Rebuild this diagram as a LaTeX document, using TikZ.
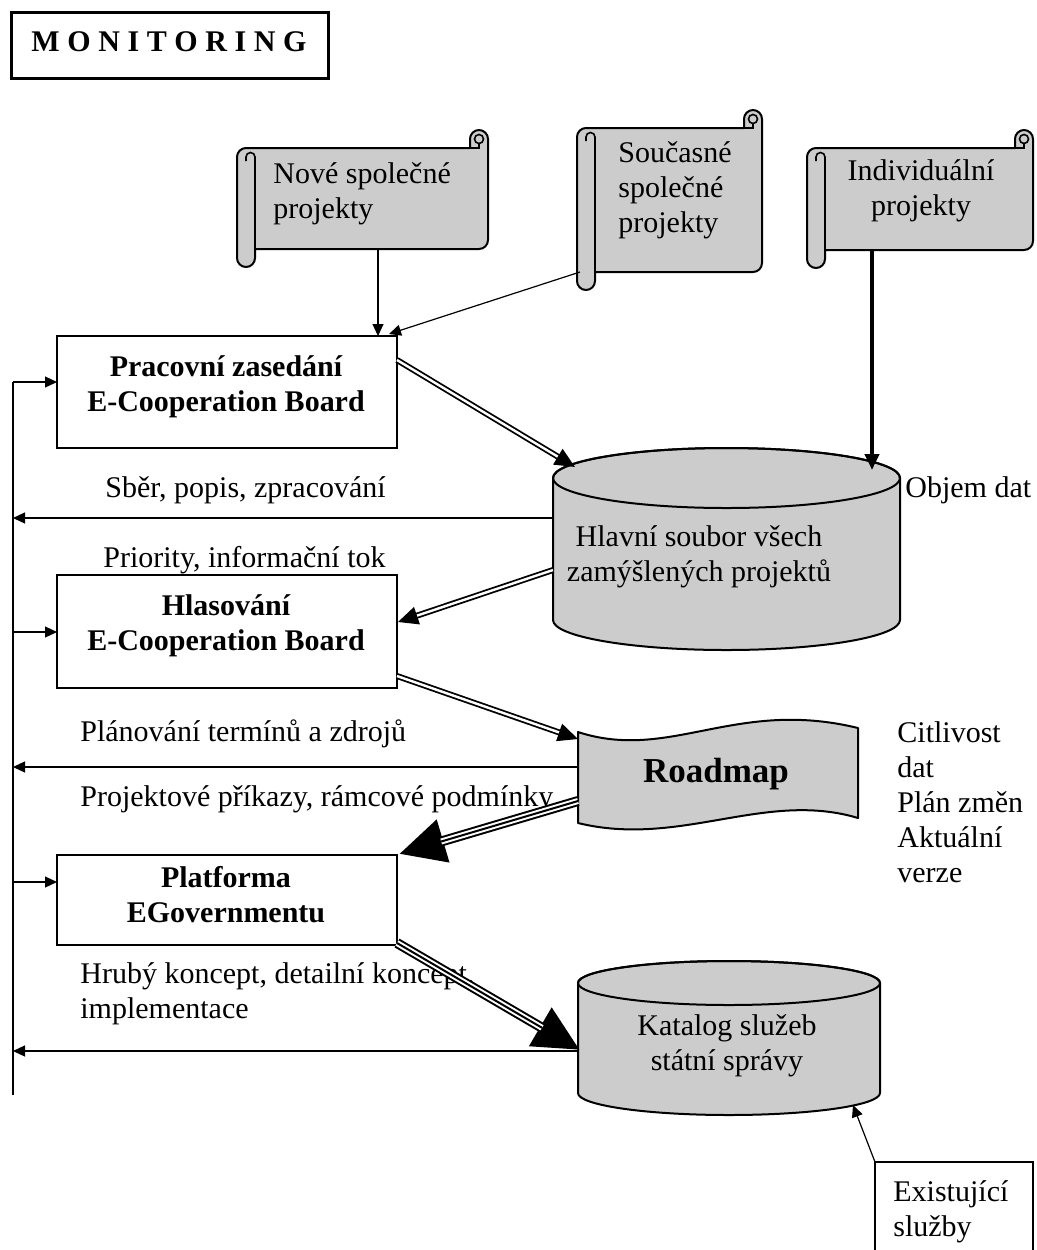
\documentclass[tikz,border=0pt]{standalone}
\usepackage{fontspec}
\setmainfont{Liberation Serif}
\usetikzlibrary{arrows.meta}
\definecolor{stipple}{gray}{0.80}

% scroll banner: left, top, right, bottom
\newcommand\scrollshape[4]{%
  \filldraw[tray] (#1,{#2+27}) arc[start angle=180,end angle=270,radius=9]
    -- ({#3-18},{#2+18}) -- ({#3-18},{#2+9}) arc[start angle=180,end angle=360,radius=9]
    -- (#3,{#4-27}) arc[start angle=0,end angle=90,radius=9]
    -- ({#1+18},{#4-18}) -- ({#1+18},{#4-9}) arc[start angle=0,end angle=180,radius=9] -- cycle;
  \draw[line width=0.9pt] ({#1+18},{#2+36}) -- ({#1+18},{#4-18});
  \draw[line width=0.8pt] ({#1+18},{#2+36}) -- ({#1+18},{#2+27})
    arc[start angle=0,end angle=-180,radius=4.5] -- ({#1+9},{#2+31});
  \draw[line width=0.8pt] ({#3-9},{#2+9}) circle[radius=4.5];
  \draw[line width=0.8pt] ({#3-18},{#2+18}) -- ({#3-9},{#2+18}) -- ({#3-9},{#2+13.5});
}
% upright drum: left, right, top centre y, bottom centre y, y radius
\newcommand\drum[5]{%
  \pgfmathsetmacro\drumrx{(#2-#1)/2}
  \filldraw[tray] (#1,#3) -- (#1,#4)
    arc[start angle=180,end angle=0,x radius=\drumrx,y radius=#5] -- (#2,#3)
    arc[start angle=0,end angle=-180,x radius=\drumrx,y radius=#5] -- cycle;
  \draw[line width=1pt] ({(#1+#2)/2},#3) ellipse[x radius=\drumrx,y radius=#5];
}
% three-line arrow with a large head
\newcommand\triplearrow[2]{%
  \draw[line width=5pt,-{Triangle[length=23pt,width=21pt]}] (#1) -- (#2);
  \draw[white,line width=3pt,shorten >=22pt] (#1) -- (#2);
  \draw[line width=1pt,shorten >=22pt] (#1) -- (#2);
}

\tikzset{
  txt/.style={font=\fontsize{15}{17.5}\selectfont, inner sep=0pt},
  boldtxt/.style={font=\fontsize{15}{17.5}\selectfont\bfseries, inner sep=0pt, align=center},
  frame/.style={draw, line width=0.8pt},
  tray/.style={draw, line width=1pt, fill=stipple, line join=round},
  headsmall/.style={-{Triangle[length=6pt,width=5.5pt]}},
  feed/.style={line width=0.6pt, headsmall},
  twin/.style={double, double distance=1.2pt, line width=0.9pt, -{Triangle[length=10pt,width=9pt]}},
}

\begin{document}
\begin{tikzpicture}[x=0.5pt,y=-0.5pt]
\useasboundingbox (0,0) rectangle (1037,1250);
\fill[white] (0,0) rectangle (1037,1250);

% title
\node[draw, line width=1.5pt, minimum width=158.5pt, minimum height=33pt, inner sep=0pt] (titlebox) at (169.5,45) {};
\node[font=\fontsize{15}{18}\selectfont\bfseries, inner sep=0pt] (title) at (169,42)
  {M\hspace{3.8pt}O\hspace{3.8pt}N\hspace{3.8pt}I\hspace{3.8pt}T\hspace{3.8pt}O\hspace{3.8pt}R\hspace{3.8pt}I\hspace{3.8pt}N\hspace{3.8pt}G};

% project sources
\scrollshape{237}{130}{488}{267}
\node[txt, align=left, anchor=west] (nove) at (273,194) {Nové společné\\projekty};
\scrollshape{577}{110}{762}{290}
\node[txt, align=left, anchor=west] (soucasne) at (618,190) {Současné\\společné\\projekty};
\scrollshape{807}{130}{1033}{268}
\node[txt, align=center] (indiv) at (921,191) {Individuální\\projekty};

% process boxes
\node[frame, minimum width=170pt, minimum height=56pt, inner sep=0pt] (zasedani) at (227,392) {};
\node[boldtxt] (zasedanitxt) at (226,387) {Pracovní zasedání\\E-Cooperation Board};
\node[frame, minimum width=170pt, minimum height=56.5pt, inner sep=0pt] (hlasovani) at (227,631.5) {};
\node[boldtxt] (hlasovanitxt) at (226,626) {Hlasování\\E-Cooperation Board};
\node[frame, minimum width=170pt, minimum height=45pt, inner sep=0pt] (platforma) at (227,900) {};
\node[boldtxt] (platformatxt) at (226,895) {Platforma\\EGovernmentu};

% data stores
\drum{553}{900}{478}{620}{30}
\node[txt, align=center] (hlavni) at (699,557) {Hlavní soubor všech\\zamýšlených projektů};
\filldraw[tray] (578,732) .. controls (670,762) and (735,698) .. (858,728)
  -- (858,818) .. controls (765,790) and (680,848) .. (578,823) -- cycle;
\node[font=\fontsize{17.5}{20}\selectfont\bfseries, inner sep=0pt, anchor=base] (roadmap) at (716,782) {Roadmap};
\drum{578}{880}{983}{1093}{22}
\node[txt, align=center] (katalog) at (727,1046) {Katalog služeb\\státní správy};

% existing services
\draw[frame] (875,1250) -- (875,1162) -- (1033,1162) -- (1033,1250);
\node[txt, align=left, anchor=west] (existujici) at (893,1212) {Existující\\služby};

% side notes
\node[txt, anchor=base west] (objem) at (905,497) {Objem dat};
\node[txt, align=left, anchor=north west] (citlivost) at (897,721) {Citlivost\\dat\\Plán změn\\Aktuální\\verze};

% flow labels
\node[txt, anchor=base west] (sber) at (105,497) {Sběr, popis, zpracování};
\node[txt, anchor=base west] (priority) at (103,567) {Priority, informační tok};
\node[txt, anchor=base west] (planovani) at (80,741) {Plánování termínů a zdrojů};
\node[txt, anchor=base west] (prikazy) at (80,806) {Projektové příkazy, rámcové podmínky};
\node[txt, anchor=base west] (hruby) at (80,983) {Hrubý koncept, detailní koncept,};
\node[txt, anchor=base west] (impl) at (80,1018) {implementace};

% connector end points
\coordinate (nove-s) at (378,249);
\coordinate (zas-n1) at (378,336);
\coordinate (soucasne-s) at (580,272);
\coordinate (zas-n2) at (389,334);
\coordinate (indiv-s) at (872,250);
\coordinate (hlavni-n) at (872,470);
\coordinate (zas-e) at (397,360);
\coordinate (hlavni-nw) at (575,467);
\coordinate (hlavni-w) at (553,570);
\coordinate (hlas-e) at (398,622);
\coordinate (hlas-se) at (397,676);
\coordinate (road-w1) at (578,739);
\coordinate (road-w2) at (578,801);
\coordinate (plat-ne) at (399,854);
\coordinate (plat-se) at (397,943);
\coordinate (katalog-w1) at (580,1050);
\coordinate (hlavni-w2) at (553,518);
\coordinate (road-w) at (578,767);
\coordinate (katalog-w2) at (578,1051);
\coordinate (loop-1) at (13,518);
\coordinate (loop-2) at (13,767);
\coordinate (loop-3) at (13,1051);
\coordinate (loop-top) at (13,382);
\coordinate (loop-end) at (13,1095);
\coordinate (loop-b) at (13,632);
\coordinate (loop-c) at (13,882);
\coordinate (zas-w) at (57,382);
\coordinate (hlas-w) at (57,632);
\coordinate (plat-w) at (57,882);
\coordinate (exist-nw) at (875,1162);
\coordinate (katalog-s) at (853,1105);

% inputs
\draw[feed] (nove-s) -- (zas-n1);
\draw[feed] (soucasne-s) -- (zas-n2);
\draw[line width=2pt, -{Triangle[length=8pt,width=7pt]}] (indiv-s) -- (hlavni-n);
\draw[feed] (exist-nw) -- (katalog-s);

% main flow
\draw[twin] (zas-e) -- (hlavni-nw);
\draw[twin] (hlavni-w) -- (hlas-e);
\draw[twin] (hlas-se) -- (road-w1);
\triplearrow{road-w2}{plat-ne}
\triplearrow{plat-se}{katalog-w1}

% feedback loop
\draw[feed] (hlavni-w2) -- (loop-1);
\draw[feed] (road-w) -- (loop-2);
\draw[feed] (katalog-w2) -- (loop-3);
\draw[line width=0.9pt] (loop-top) -- (loop-end);
\draw[feed] (loop-top) -- (zas-w);
\draw[feed] (loop-b) -- (hlas-w);
\draw[feed] (loop-c) -- (plat-w);
\end{tikzpicture}
\end{document}
